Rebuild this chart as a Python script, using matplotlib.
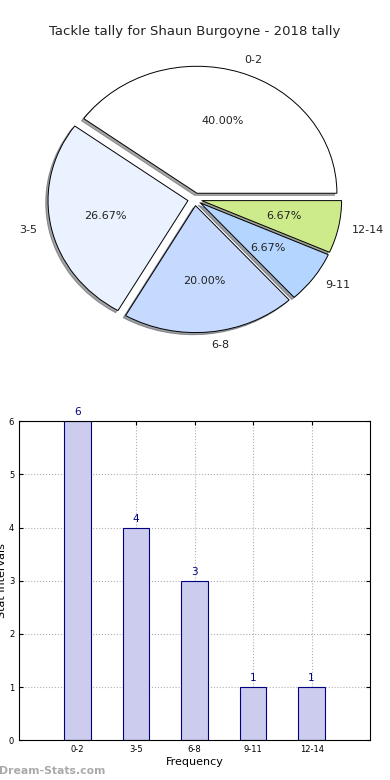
import matplotlib
matplotlib.use('Agg')
import matplotlib.pyplot as plt

# 数据
categories = ['0-2', '3-5', '6-8', '9-11', '12-14']
counts = [6, 4, 3, 1, 1]
pie_colors = ['#ffffff', '#eaf1ff', '#c6d9ff', '#b3d5ff', '#cdeb8b']
explode = [0.05, 0.05, 0.05, 0.05, 0.05]

title = 'Tackle tally for Shaun Burgoyne - 2018 tally'

fig = plt.figure(figsize=(3.9, 7.8), dpi=100)

# 饼图
ax1 = fig.add_axes([0.051, 0.541, 0.897, 0.407])
wedges, texts, autotexts = ax1.pie(counts, labels=categories, colors=pie_colors,
                                   explode=explode,
                                   shadow={'ox': -0.012, 'oy': -0.012},
                                   autopct='%.2f%%',
                                   startangle=0, counterclock=True,
                                   wedgeprops={'edgecolor': 'black', 'linewidth': 0.7},
                                   textprops={'fontsize': 8, 'color': '#222222'})
ax1.set_aspect('auto')
ax1.set_xlim(-1.25, 1.25)
ax1.set_ylim(-1.25, 1.25)
ax1.set_title(title, fontsize=9.5, color='#222222', pad=4)

# 柱状图
ax2 = fig.add_axes([0.049, 0.051, 0.9, 0.409])
x = list(range(len(categories)))
bars = ax2.bar(x, counts, width=0.45, color='#ccccee', edgecolor='#000080',
               linewidth=0.8, zorder=2)
for xi, c in zip(x, counts):
    ax2.text(xi, c + 0.07, str(c), ha='center', va='bottom', fontsize=7.5,
             color='#000080')
ax2.set_xlim(-1, 5)
ax2.set_ylim(0, 6)
ax2.set_xticks(x)
ax2.set_xticklabels(categories)
ax2.set_yticks(range(0, 7))
ax2.tick_params(direction='in', labelsize=6, top=True, right=True, length=3)
ax2.grid(True, linestyle=':', color='#b0b0b0', linewidth=0.8, zorder=0)
ax2.set_axisbelow(True)
ax2.set_xlabel('Frequency', fontsize=8, labelpad=2)
ax2.set_ylabel('Stat Intervals', fontsize=8, labelpad=1)

fig.text(-0.003, 0.008, 'Dream-Stats.com', fontsize=7.8, color='#aaaaaa',
         fontweight='semibold')

fig.savefig('out.png', dpi=100)
